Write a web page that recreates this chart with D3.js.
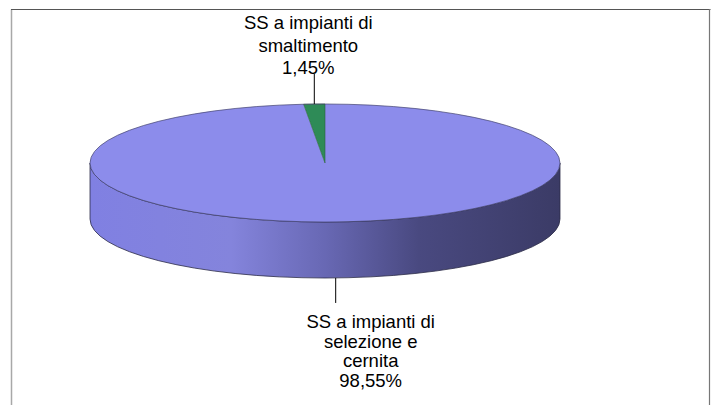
<!DOCTYPE html>
<html><head><meta charset="utf-8">
<script src="https://cdn.jsdelivr.net/npm/d3@7"></script>
<style>html,body{margin:0;padding:0;background:#fff;}svg{display:block;}</style>
</head><body>
<svg id="c" width="711" height="405"></svg>
<script>
const categories = ["SS a impianti di selezione e cernita", "SS a impianti di smaltimento"];
const values = [98.55, 1.45];
const valueLabels = ["98,55%", "1,45%"];
const labelLines = [["SS a impianti di", "selezione e", "cernita"], ["SS a impianti di", "smaltimento"]];
const colors = ["#8c8ceb", "#2e8b57"];

const svg = d3.select("#c");
const W = 711, H = 405;
const cx = 325, cy = 163, rx = 235, ry = 59, depth = 56;

// frame
svg.append("line").attr("x1", 11.5).attr("y1", 9.5).attr("x2", 11.5).attr("y2", H).attr("stroke", "#a8a8a8").attr("stroke-width", 1.5);
svg.append("line").attr("x1", 11).attr("y1", 9.5).attr("x2", 710.5).attr("y2", 9.5).attr("stroke", "#555").attr("stroke-width", 1);
svg.append("line").attr("x1", 709.5).attr("y1", 9).attr("x2", 709.5).attr("y2", H).attr("stroke", "#777").attr("stroke-width", 1.2);

const pie = d3.pie().sort(null).startAngle(0).endAngle(2 * Math.PI);
const arcs = pie(values);
const px = a => cx + rx * Math.sin(a);
const py = a => cy - ry * Math.cos(a);

// side gradient
const defs = svg.append("defs");
const g = defs.append("linearGradient").attr("id", "side").attr("x1", 0).attr("x2", 1).attr("y1", 0).attr("y2", 0);
[[0, "#8080e2"], [0.3, "#8484dc"], [0.5, "#6868b4"], [0.7, "#494980"], [1, "#3b3b66"]].forEach(([o, c]) =>
  g.append("stop").attr("offset", o).attr("stop-color", c));

// side (front half, blue slice)
svg.append("path")
  .attr("d", `M${cx + rx},${cy} A${rx},${ry} 0 0 1 ${cx - rx},${cy} L${cx - rx},${cy + depth} A${rx},${ry} 0 0 0 ${cx + rx},${cy + depth} Z`)
  .attr("fill", "url(#side)")
  .attr("stroke", "#2c2c48").attr("stroke-width", 0.8);

// top faces
svg.selectAll("path.top").data(arcs).enter().append("path")
  .attr("class", "top")
  .attr("d", d => {
    const large = (d.endAngle - d.startAngle) > Math.PI ? 1 : 0;
    return `M${cx},${cy} L${px(d.startAngle)},${py(d.startAngle)} A${rx},${ry} 0 ${large} 1 ${px(d.endAngle)},${py(d.endAngle)} Z`;
  })
  .attr("fill", (d, i) => colors[i])
  .attr("stroke", (d, i) => i === 0 ? "none" : "#2a5e40").attr("stroke-width", 0.6);

// top rim outline
svg.append("path")
  .attr("d", `M${cx - rx},${cy} A${rx},${ry} 0 0 1 ${cx + rx},${cy} A${rx},${ry} 0 0 1 ${cx - rx},${cy}`)
  .attr("fill", "none").attr("stroke", "#44446e").attr("stroke-width", 0.7);

// labels
const font = "'Liberation Sans', Arial, sans-serif";
const fs = 18.5;
arcs.forEach((d, i) => {
  const m = (d.startAngle + d.endAngle) / 2;
  const x0 = px(m);
  const front = Math.cos(m) < 0;
  const y0 = front ? py(m) + depth : py(m);
  const lines = labelLines[i].concat([valueLabels[i]]);
  if (front) {
    svg.append("line").attr("x1", x0).attr("y1", y0).attr("x2", x0).attr("y2", y0 + 25)
      .attr("stroke", "#000").attr("stroke-width", 1);
    const tx = x0 + 35;
    lines.forEach((t, k) => svg.append("text").attr("x", tx).attr("y", 328 + k * 19.5)
      .attr("text-anchor", "middle").attr("font-family", font).attr("font-size", fs).attr("fill", "#000").text(t));
  } else {
    svg.append("line").attr("x1", x0).attr("y1", 74).attr("x2", x0).attr("y2", y0)
      .attr("stroke", "#000").attr("stroke-width", 1);
    const tx = x0 - 6;
    lines.forEach((t, k) => svg.append("text").attr("x", tx).attr("y", 29 + k * 22.5)
      .attr("text-anchor", "middle").attr("font-family", font).attr("font-size", fs).attr("fill", "#000").text(t));
  }
});
</script>
</body></html>
